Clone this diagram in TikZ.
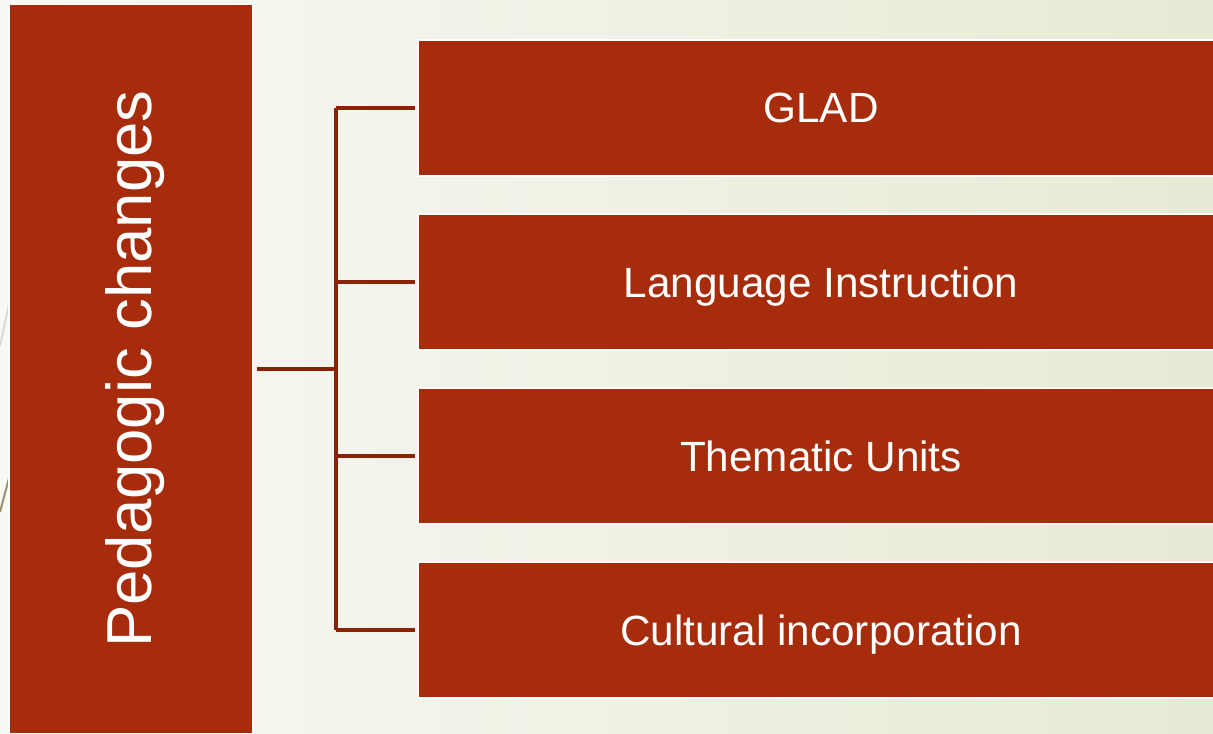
\documentclass[tikz,border=0pt]{standalone}
\usepackage{fontspec}
\setmainfont{Liberation Sans}
\usetikzlibrary{positioning}

\definecolor{rust}{HTML}{A62C0C}
\definecolor{rustline}{HTML}{8A2306}
\definecolor{bgleft}{HTML}{F8F8F4}
\definecolor{bgright}{HTML}{E6EBD5}

\tikzset{
    block/.style={fill=rust, draw=white, line width=1.5pt, text=white,
        inner sep=0pt},
    topic/.style={block, minimum width=604.5pt, minimum height=102pt,
        text depth=0pt, font=\fontsize{31.7}{36}\selectfont},
    link/.style={draw=rustline, line width=2.4pt}
}

\begin{document}
\begin{tikzpicture}[x=0.75pt, y=-0.75pt]
        \useasboundingbox (0,0) rectangle (1213,733);
        \shade[left color=bgleft, right color=bgright] (0,0) rectangle (1213,733);

        % faint curve of the slide background
        \draw[gray!30, line width=1.5pt] (0,346) -- (9,304);
        \draw[black!55!olive!60, line width=1.5pt] (0,512) -- (9,478);

        \node[block, minimum width=183pt, minimum height=547.5pt,
            font=\fontsize{47.6}{54}\selectfont] (main) at (131,369)
            {\rotatebox{90}{\raisebox{0pt}[\height][0.4\depth]{Pedagogic changes}}};

        \node[topic] (glad) at (821,108) {GLAD};
        \node[topic] (lang) at (821,282) {Language Instruction};
        \node[topic] (unit) at (821,456) {Thematic Units};
        \node[topic] (cult) at (821,630) {Cultural incorporation};

        \coordinate (hub) at (336,369);
        \draw[link] ([xshift=2pt]main.east) -- (hub);
        \draw[link] (hub |- glad.west) -- (hub |- cult.west);
        \foreach \b in {glad, lang, unit, cult}{
            \draw[link] (hub |- \b.west) -- ([xshift=-1.5pt]\b.west);
        }

    \end{tikzpicture}
\end{document}
